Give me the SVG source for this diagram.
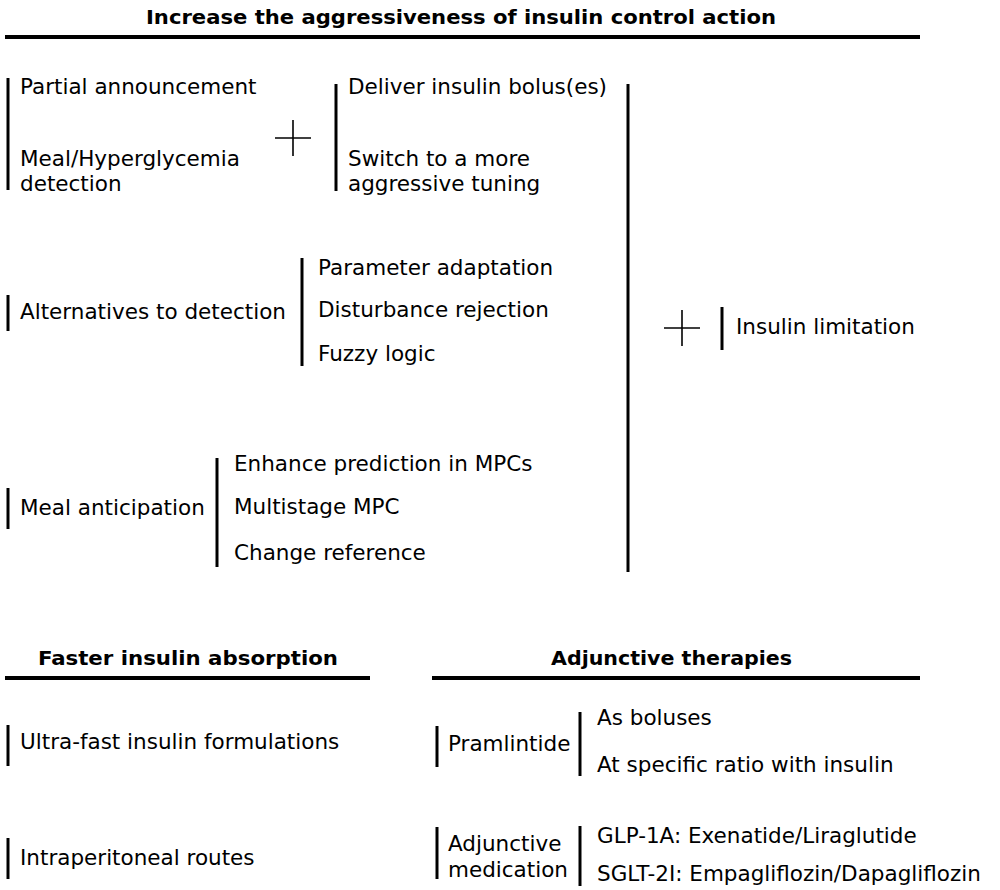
<svg xmlns="http://www.w3.org/2000/svg" width="1000" height="890" viewBox="0 0 1000 890">
  <style>
    text { font-family: "DejaVu Sans", Verdana, sans-serif; font-size: 21.5px; fill: #000; }
    .head { font-weight: bold; font-size: 20px; font-stretch: condensed; }
    .rule { stroke: #000; stroke-width: 4; }
    .bar { stroke: #000; stroke-width: 3; }
    .plus { stroke: #000; stroke-width: 1.6; }
  </style>
  <rect width="1000" height="890" fill="#fff"/>

  <!-- section headings with underlines -->
  <g id="head-aggressiveness">
    <text class="head" x="146" y="24" textLength="630" lengthAdjust="spacingAndGlyphs">Increase the aggressiveness of insulin control action</text>
    <line class="rule" x1="5" y1="37" x2="920" y2="37"/>
  </g>
  <g id="head-absorption">
    <text class="head" x="38" y="665" textLength="300" lengthAdjust="spacingAndGlyphs">Faster insulin absorption</text>
    <line class="rule" x1="5" y1="678" x2="370" y2="678"/>
  </g>
  <g id="head-adjunctive">
    <text class="head" x="551" y="665" textLength="241" lengthAdjust="spacingAndGlyphs">Adjunctive therapies</text>
    <line class="rule" x1="432" y1="678" x2="920" y2="678"/>
  </g>

  <!-- brackets and plus signs -->
  <g id="connectors">
    <line class="bar" x1="8" y1="78" x2="8" y2="190"/>
    <line class="plus" x1="275" y1="138" x2="311" y2="138"/>
    <line class="plus" x1="293" y1="120" x2="293" y2="156"/>
    <line class="bar" x1="336" y1="84" x2="336" y2="191"/>
    <line class="bar" x1="8" y1="295" x2="8" y2="331"/>
    <line class="bar" x1="302" y1="258" x2="302" y2="366"/>
    <line class="bar" x1="8" y1="488" x2="8" y2="529"/>
    <line class="bar" x1="217" y1="458" x2="217" y2="567"/>
    <line class="bar" x1="628" y1="84" x2="628" y2="572"/>
    <line class="plus" x1="664" y1="328" x2="700" y2="328"/>
    <line class="plus" x1="682" y1="310" x2="682" y2="346"/>
    <line class="bar" x1="722" y1="307" x2="722" y2="350"/>
    <line class="bar" x1="8" y1="725" x2="8" y2="766"/>
    <line class="bar" x1="8" y1="838" x2="8" y2="879"/>
    <line class="bar" x1="437" y1="726" x2="437" y2="767"/>
    <line class="bar" x1="580" y1="712" x2="580" y2="776"/>
    <line class="bar" x1="437" y1="827" x2="437" y2="879"/>
    <line class="bar" x1="580" y1="826" x2="580" y2="886"/>
  </g>

  <g id="detection">
    <text x="20" y="94">Partial announcement</text>
    <text x="20" y="166">Meal/Hyperglycemia</text>
    <text x="20" y="191">detection</text>
  </g>
  <g id="actions">
    <text x="348" y="94">Deliver insulin bolus(es)</text>
    <text x="348" y="166">Switch to a more</text>
    <text x="348" y="191">aggressive tuning</text>
  </g>
  <g id="alternatives">
    <text x="20" y="319">Alternatives to detection</text>
  </g>
  <g id="alternatives-list">
    <text x="318" y="275">Parameter adaptation</text>
    <text x="318" y="317">Disturbance rejection</text>
    <text x="318" y="361">Fuzzy logic</text>
  </g>
  <g id="anticipation">
    <text x="20" y="515">Meal anticipation</text>
  </g>
  <g id="anticipation-list">
    <text x="234" y="471">Enhance prediction in MPCs</text>
    <text x="234" y="514">Multistage MPC</text>
    <text x="234" y="560">Change reference</text>
  </g>
  <g id="limitation">
    <text x="736" y="334">Insulin limitation</text>
  </g>
  <g id="ultrafast">
    <text x="20" y="749">Ultra-fast insulin formulations</text>
  </g>
  <g id="intraperitoneal">
    <text x="20" y="865">Intraperitoneal routes</text>
  </g>
  <g id="pramlintide">
    <text x="448" y="751">Pramlintide</text>
  </g>
  <g id="pramlintide-list">
    <text x="597" y="725">As boluses</text>
    <text x="597" y="772">At specific ratio with insulin</text>
  </g>
  <g id="medication">
    <text x="448" y="851">Adjunctive</text>
    <text x="448" y="877">medication</text>
  </g>
  <g id="medication-list">
    <text x="597" y="843">GLP-1A: Exenatide/Liraglutide</text>
    <text x="597" y="881">SGLT-2I: Empagliflozin/Dapagliflozin</text>
  </g>
</svg>
